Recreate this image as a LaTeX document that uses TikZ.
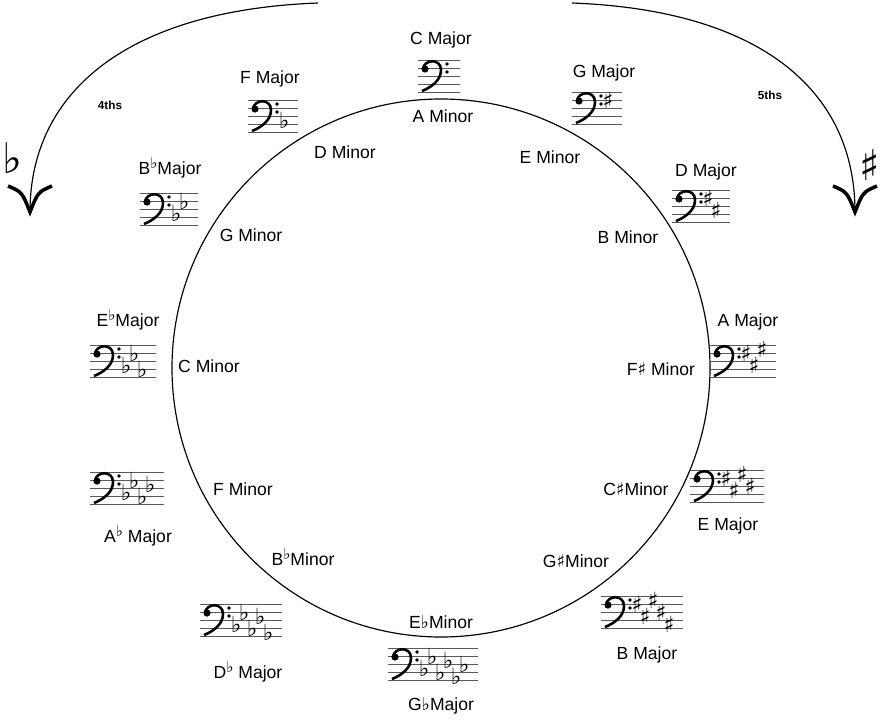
\documentclass[tikz,border=0pt]{standalone}
\usepackage{fontspec}
\setmainfont{Liberation Sans}
\newfontfamily\musfont{DejaVu Sans}
\usepackage{tikz}
\usetikzlibrary{calc}
\usetikzlibrary{positioning}

\newcommand{\fl}{\raisebox{5pt}{\musfont\bfseries\fontsize{13}{13}\selectfont ♭}}
\newcommand{\sh}{{\musfont\bfseries ♯}}
\tikzset{lbl/.style={font=\fontsize{15}{17}\selectfont,inner sep=1pt},
         acc/.style={font=\musfont\bfseries\fontsize{19}{19}\selectfont,inner sep=0pt},
         tag/.style={font=\bfseries\fontsize{10}{12}\selectfont}}
% staff with bass clef: x, y (top line), number of signs, s or f
\newcommand{\keysig}[4]{%
 \pgfmathsetmacro\sw{#3*8+42}
 \foreach \k in {0,...,4} \draw[gray!70!black,thin] (#1,#2+\k*8) -- ++(\sw,0);
 \fill (#1+7,#2+9) circle (3.6);
 \draw[line width=2.2pt] (#1+5,#2+9) .. controls (#1+6,#2-1) and (#1+23,#2-2) .. (#1+23,#2+10)
                          .. controls (#1+23,#2+20) and (#1+14,#2+27) .. (#1+4,#2+31);
 \fill (#1+29,#2+4) circle (1.9) (#1+29,#2+12) circle (1.9);
 \ifx s#4
  \foreach \p [count=\i] in {2,5,1,4,7,3,6}{\ifnum\i>#3\else
   \node[acc] at (#1+28+\i*8,#2+\p*4) {♯};\fi}
 \else
  \foreach \p [count=\i] in {6,3,7,4,8,5}{\ifnum\i>#3\else
   \node[acc,yshift=3pt] at (#1+28+\i*8,#2+\p*4) {♭};\fi}
 \fi}

\begin{document}
\begin{tikzpicture}[x=0.03cm,y=-0.03cm]
 \useasboundingbox (0,0) rectangle (883,722);
 \draw[line width=1pt] (441,368) circle (269);
 % arrows
 \coordinate (lstart) at (318,3);
 \coordinate (ltip) at (30,212);
 \coordinate (rstart) at (572,3);
 \coordinate (rtip) at (855,212);
 \draw[line width=1pt] (lstart) .. controls (130,10) and (30,90) .. (ltip);
 \draw[line width=3pt] (8,186) .. controls (22,192) .. (ltip) .. controls (38,192) .. (52,186);
 \draw[line width=1pt] (rstart) .. controls (760,10) and (855,90) .. (rtip);
 \draw[line width=3pt] (833,186) .. controls (847,192) .. (rtip) .. controls (863,192) .. (877,186);
 \node[tag] (fourths) at (110,105) {4ths};
 \node[tag] (fifths) at (770,95) {5ths};
 \node[acc,font=\musfont\bfseries\fontsize{36}{36}\selectfont] (bigflat) at (12,158) {♭};
 \node[acc,font=\musfont\bfseries\fontsize{36}{36}\selectfont] (bigsharp) at (870,165) {♯};
 % staves
 \keysig{418}{60}{0}{s}
 \keysig{572}{92}{1}{s}
 \keysig{672}{190}{2}{s}
 \keysig{710}{345}{3}{s}
 \keysig{690}{470}{4}{s}
 \keysig{601}{596}{5}{s}
 \keysig{388}{648}{6}{f}
 \keysig{200}{604}{5}{f}
 \keysig{90}{472}{4}{f}
 \keysig{90}{345}{3}{f}
 \keysig{140}{193}{2}{f}
 \keysig{248}{100}{1}{f}
 % major keys
 \node[lbl] (cmaj) at (441,40) {C Major};
 \node[lbl] (gmaj) at (604,73) {G Major};
 \node[lbl] (dmaj) at (706,172) {D Major};
 \node[lbl] (amaj) at (748,322) {A Major};
 \node[lbl] (emaj) at (728,526) {E Major};
 \node[lbl] (bmaj) at (647,655) {B Major};
 \node[lbl] (gbmaj) at (441,706) {G{\musfont\bfseries ♭}Major};
 \node[lbl] (dbmaj) at (248,672) {D\fl\ Major};
 \node[lbl] (abmaj) at (138,536) {A\fl\ Major};
 \node[lbl] (ebmaj) at (128,320) {E\fl Major};
 \node[lbl] (bbmaj) at (170,168) {B\fl Major};
 \node[lbl] (fmaj) at (270,79) {F Major};
 % minor keys
 \node[lbl] (amin) at (443,116) {A Minor};
 \node[lbl] (emin) at (550,157) {E Minor};
 \node[lbl] (bmin) at (628,237) {B Minor};
 \node[lbl] (fsmin) at (661,369) {F\sh\ Minor};
 \node[lbl] (csmin) at (636,489) {C\sh Minor};
 \node[lbl] (gsmin) at (576,561) {G\sh Minor};
 \node[lbl] (ebmin) at (441,622) {E{\musfont\bfseries ♭}Minor};
 \node[lbl] (bbmin) at (303,557) {B\fl Minor};
 \node[lbl] (fmin) at (243,489) {F Minor};
 \node[lbl] (cmin) at (209,366) {C Minor};
 \node[lbl] (gmin) at (251,235) {G Minor};
 \node[lbl] (dmin) at (345,152) {D Minor};
\end{tikzpicture}
\end{document}
